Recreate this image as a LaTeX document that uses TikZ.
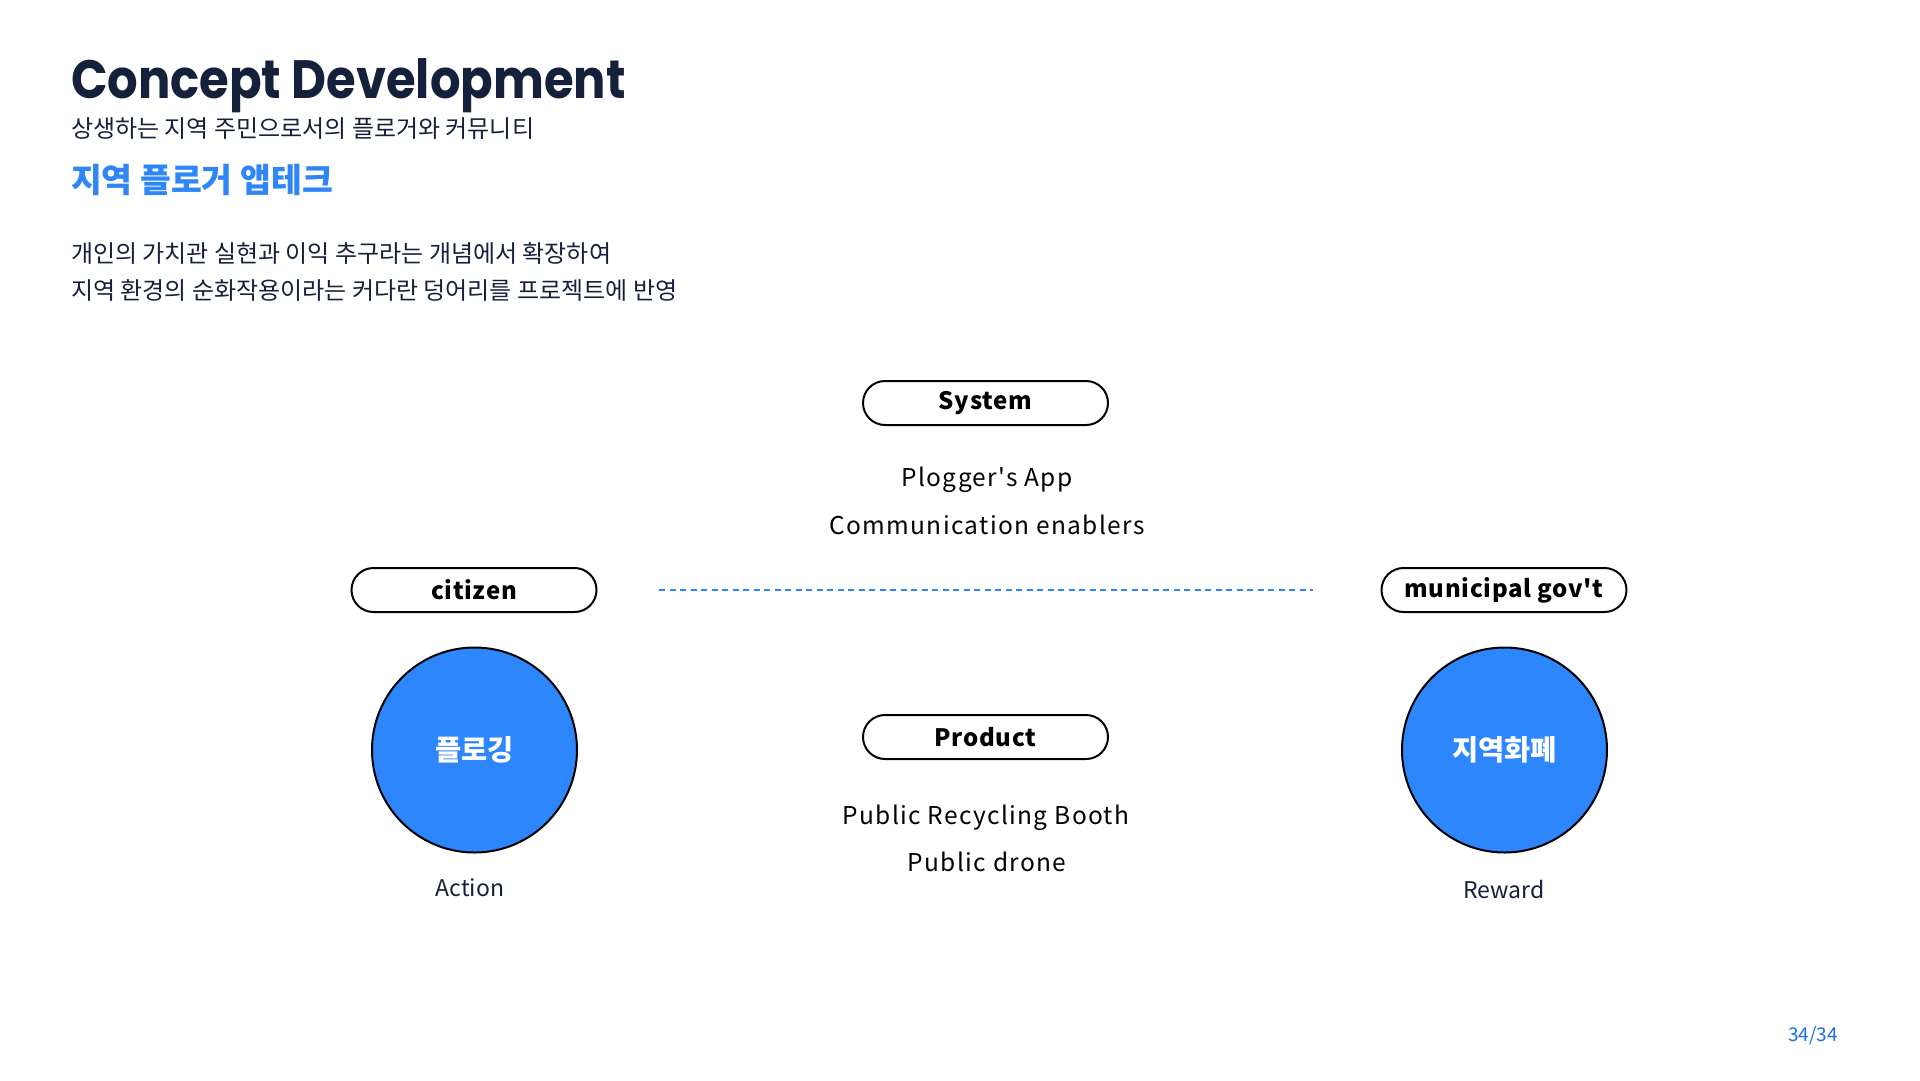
\documentclass[tikz,border=0pt]{standalone}
\usepackage{fontspec}
\setmainfont{Noto Sans CJK KR}
\newfontfamily\titlefont{Poppins}[FakeStretch=0.89]
\newfontfamily\spacedfont{Noto Sans CJK KR}[LetterSpace=5.5]
\newfontfamily\spacedbold{Noto Sans CJK KR}[LetterSpace=3]
\definecolor{ink}{HTML}{15213B}
\definecolor{accent}{HTML}{2F86F6}
\definecolor{fillblue}{HTML}{2D86FC}
\definecolor{pageblue}{HTML}{1A6FE6}
\begin{document}
\begin{tikzpicture}[x=1pt,y=-1pt,
  every node/.style={inner sep=0pt,outer sep=0pt},
  pill/.style={draw=black,line width=2pt,rounded corners=22pt,minimum width=245pt,minimum height=44pt,
    font=\spacedbold\bfseries\fontsize{24}{28}\selectfont,text=black},
  item/.style={font=\spacedfont\fontsize{24.5}{28}\selectfont,text=black},
  disc/.style={circle,draw=black,line width=2pt,fill=fillblue,minimum size=205pt,
    font=\bfseries\fontsize{28.5}{32}\selectfont,text=white},
  caption/.style={font=\fontsize{23}{27}\selectfont,text=ink},
  body/.style={anchor=west,font=\fontsize{24}{28}\selectfont,text=ink},
  link/.style={draw=accent,line width=1.6pt,dash pattern=on 6pt off 4.5pt}]
\useasboundingbox[fill=white] (0,0) rectangle (1920,1080);

% heading block
\node[anchor=base west,font=\titlefont\bfseries\fontsize{54}{60}\selectfont,text=ink] (title) at (71,98) {Concept Development};
\node[body] (sub) at (71,129) {상생하는 지역 주민으로서의 플로거와 커뮤니티};
\node[anchor=west,font=\bfseries\fontsize{33.5}{38}\selectfont,text=accent] (head) at (71,180) {지역 플로거 앱테크};
\node[body] (l1) at (71,253) {개인의 가치관 실현과 이익 추구라는 개념에서 확장하여};
\node[body] (l2) at (71,290) {지역 환경의 순화작용이라는 커다란 덩어리를 프로젝트에 반영};

% system block
\node[pill] (system) at (985.5,403) {System};
\node[item] (app) at (987,480) {Plogger's App};
\node[item] (comm) at (987,525) {Communication enablers};

% actors
\node[pill] (citizen) at (474,590) {citizen};
\node[pill] (gov) at (1504,590) {municipal gov't};
\coordinate (dl) at (659,590);
\coordinate (dr) at (1313,590);
\draw[link] (dl) -- (dr);

\node[disc] (plog) at (474.5,750) {플로깅};
\node[disc] (money) at (1504.5,750) {지역화폐};
\node[caption] (action) at (470,888) {Action};
\node[caption] (reward) at (1504,889) {Reward};

% product block
\node[pill] (product) at (985.5,737) {Product};
\node[item] (booth) at (986,817.5) {Public Recycling Booth};
\node[item] (drone) at (987,861.5) {Public drone};

\node[font=\fontsize{19}{22}\selectfont,text=pageblue] (page) at (1813,1036) {34/34};
\end{tikzpicture}
\end{document}
